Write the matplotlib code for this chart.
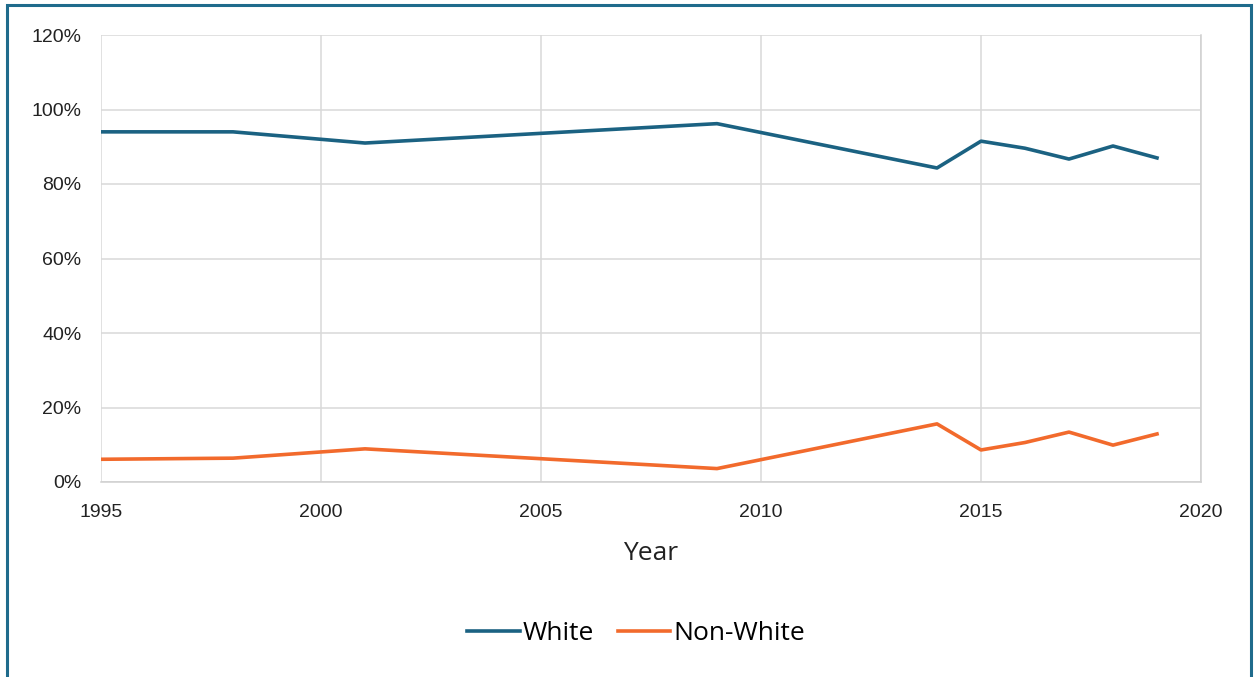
import matplotlib
matplotlib.use("Agg")
import matplotlib.pyplot as plt
from matplotlib.patches import Rectangle
from matplotlib.ticker import FuncFormatter

years = [1995, 1998, 2001, 2009, 2014, 2015, 2016, 2017, 2018, 2019]
white = [94.0, 94.0, 91.0, 96.2, 84.3, 91.5, 89.6, 86.7, 90.2, 87.0]
non_white = [6.1, 6.4, 8.9, 3.6, 15.6, 8.6, 10.6, 13.4, 9.9, 12.9]

x_ticks = [1995, 2000, 2005, 2010, 2015, 2020]
y_ticks = [0, 20, 40, 60, 80, 100, 120]

W, H = 1254, 677
fig = plt.figure(figsize=(W / 100, H / 100), dpi=100)

# outer border
fig.patches.append(Rectangle((7 / W, -0.05), (1251 - 7) / W, 1.05 - 5 / H,
                             transform=fig.transFigure, fill=False,
                             edgecolor="#1f6b8c", linewidth=2.2))

ax = fig.add_axes([101 / W, 1 - 482 / H, (1201 - 101) / W, (482 - 35) / H])
ax.plot(years, white, color="#1b6282", linewidth=2.6, label="White", solid_joinstyle="round")
ax.plot(years, non_white, color="#f26a2c", linewidth=2.6, label="Non-White", solid_joinstyle="round")

ax.set_xlim(1995, 2020)
ax.set_ylim(0, 120)
ax.set_xticks(x_ticks)
ax.set_yticks(y_ticks)
ax.yaxis.set_major_formatter(FuncFormatter(lambda v, p: f"{int(v)}%"))
ax.grid(True, color="#d9d9d9", linewidth=1.1)
ax.set_axisbelow(True)
for s in ["top", "left"]:
    ax.spines[s].set_visible(False)
for s in ["right", "bottom"]:
    ax.spines[s].set_color("#d0d0d0")
    ax.spines[s].set_linewidth(1.1)
ax.tick_params(length=0, labelsize=14, colors="#222222")
ax.tick_params(axis="x", pad=16)
ax.tick_params(axis="y", pad=14)
for lab in ax.get_xticklabels() + ax.get_yticklabels():
    lab.set_fontfamily("Liberation Sans")

ax.set_xlabel("Year", fontsize=19, fontfamily="Open Sans", color="#222222", labelpad=14)

leg = fig.legend(loc="center", bbox_to_anchor=(636 / W, 1 - 634 / H), ncol=2,
                 frameon=False, prop={"family": "Open Sans", "size": 19},
                 handlelength=2.0, handletextpad=0.1, columnspacing=0.9)

fig.savefig("out.png", dpi=100, facecolor="white")
